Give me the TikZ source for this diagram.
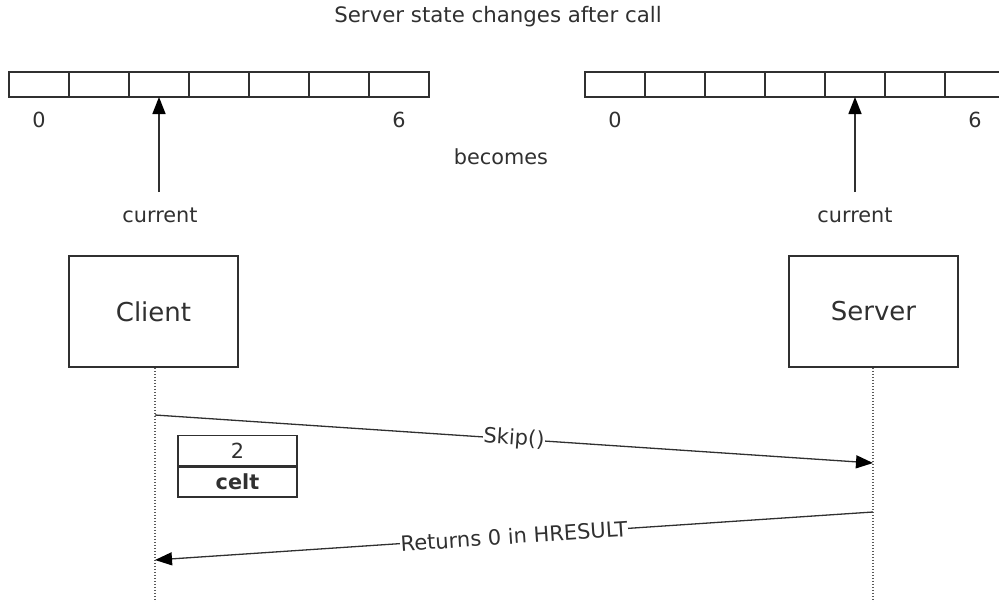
\documentclass[tikz,border=0pt]{standalone}
\usepackage{fontspec}
\setmainfont{DejaVu Sans}
\usetikzlibrary{arrows.meta}
\definecolor{ln}{HTML}{303030}
\definecolor{tx}{HTML}{303030}
\begin{document}
\begin{tikzpicture}[x=1pt,y=-1pt,
  cell/.style={draw=ln,line width=1.7pt,minimum width=60pt,minimum height=25pt,inner sep=0pt,outer sep=0pt},
  lbl/.style={text=tx,font=\fontsize{20.8}{24}\selectfont,inner sep=1pt},
  actor/.style={draw=ln,line width=1.5pt,minimum width=169pt,minimum height=111pt,text=tx,font=\fontsize{26}{30}\selectfont,inner sep=0pt},
  life/.style={draw=ln!80,line width=1.3pt,dash pattern=on 1.5pt off 1.5pt},
  msg/.style={draw=ln,line width=1.3pt,-{Triangle[length=17pt,width=13pt,color=black]}},
  ptr/.style={draw=ln,line width=1.5pt,-{Triangle[length=17pt,width=13pt,color=black]}},
  mlbl/.style={text=tx,font=\fontsize{21}{24}\selectfont,fill=white,inner sep=0.5pt,sloped},
  memo/.style={draw=ln,line width=1.5pt,minimum width=119pt,minimum height=30pt,inner sep=0pt,text=tx,font=\fontsize{20.8}{24}\selectfont}]
\useasboundingbox (0,0) rectangle (999,602);
\node[lbl,font=\fontsize{21.3}{24}\selectfont] (title) at (498,17) {Server state changes after call};
% arrays
\foreach \i in {0,...,6}{
  \node[cell] (L\i) at ({39+60*\i},84.5) {};
}
\foreach \i in {0,...,6}{
  \node[cell] (R\i) at ({615+60*\i},84.5) {};
}
\node[lbl] (l0) at (39,120) {0};
\node[lbl] (l6) at (399,120) {6};
\node[lbl] (r0) at (615,120) {0};
\node[lbl] (r6) at (975,120) {6};
\node[lbl] (becomes) at (501,157) {becomes};
\node[lbl] (lcur) at (160,215) {current};
\node[lbl] (rcur) at (855,215) {current};
\coordinate (lbot) at (159,192);
\coordinate (rbot) at (855,192);
\draw[ptr] (lbot) -- (L2.south);
\draw[ptr] (rbot) -- (R4.south);
% actors
\node[actor] (client) at (153.5,311.5) {Client};
\node[actor] (server) at (873.5,311.5) {Server};
\coordinate (cend) at (155,602);
\coordinate (send) at (873,602);
\draw[life] (client.south -| cend) -- (cend);
\draw[life] (server.south -| send) -- (send);
\coordinate (m1s) at (155,415);
\coordinate (m1e) at (873,463);
\coordinate (m2s) at (873,512);
\coordinate (m2e) at (155,560);
\draw[msg] (m1s) -- node[mlbl,pos=0.5] {Skip()} (m1e);
\draw[msg] (m2s) -- node[mlbl,pos=0.5] {Returns 0 in HRESULT} (m2e);
% celt box
\node[memo] (two) at (237.5,450.5) {2};
\node[memo,font=\fontsize{20.8}{24}\selectfont\bfseries,anchor=north] (celt) at (two.south) {celt};
\end{tikzpicture}
\end{document}
